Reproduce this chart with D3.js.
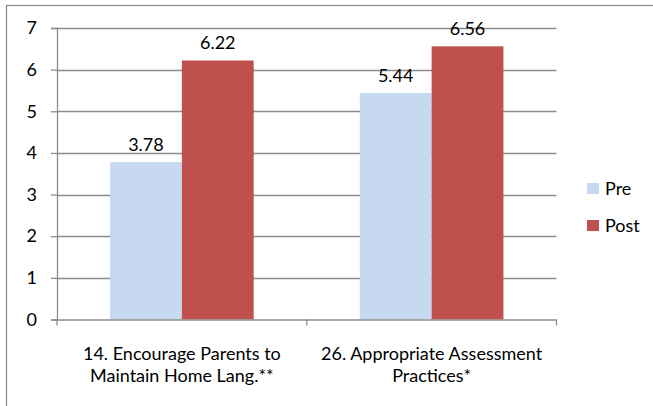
<!DOCTYPE html>
<html>
<head>
<meta charset="utf-8">
<script src="https://cdn.jsdelivr.net/npm/d3@7"></script>
<style>
  body { margin: 0; background: #fff; }
  text { font-family: Lato, "Open Sans", sans-serif; fill: #000; }
</style>
</head>
<body>
<div id="chart"></div>
<script>
// data
var categories = ["14. Encourage Parents to|Maintain Home Lang.**", "26. Appropriate Assessment|Practices*"];
var seriesNames = ["Pre", "Post"];
var preValues = [3.78, 5.44];
var postValues = [6.22, 6.56];
var yTicks = [0, 1, 2, 3, 4, 5, 6, 7];
var colors = { Pre: "#C6D9F1", Post: "#C0504D" };

var W = 653, H = 406;
var fs = "18px";
var margin = { left: 57, right: 96, top: 28, bottom: 86 };
var width = 556.5 - margin.left;
var height = 319.5 - margin.top;

var svg = d3.select("#chart").append("svg")
  .attr("width", W)
  .attr("height", H);

// outer chart border (only left and top are visible in the frame)
svg.append("rect")
  .attr("x", 6.5).attr("y", 5.5)
  .attr("width", W + 20).attr("height", H + 20)
  .attr("fill", "none").attr("stroke", "#888").attr("stroke-width", 1.2);

var g = svg.append("g")
  .attr("transform", "translate(" + margin.left + "," + margin.top + ")");

var y = d3.scaleLinear().domain([0, 7]).range([height, 0]);
var x0 = d3.scaleBand().domain(categories).range([0, width]).padding(0);
var gap = x0.bandwidth() * 0.2125;
var x1 = d3.scaleBand().domain(seriesNames).range([gap, x0.bandwidth() - gap]).padding(0);

// gridlines
g.append("g")
  .selectAll("line")
  .data(yTicks.filter(function (d) { return d > 0; }))
  .enter().append("line")
  .attr("x1", 0).attr("x2", width)
  .attr("y1", function (d) { return Math.round(y(d)) + 0.5; })
  .attr("y2", function (d) { return Math.round(y(d)) + 0.5; })
  .attr("stroke", "#8c8c8c").attr("stroke-width", 1.3);

// bars
var rows = categories.map(function (c, i) {
  return { cat: c, vals: [{ s: "Pre", v: preValues[i] }, { s: "Post", v: postValues[i] }] };
});

var groups = g.selectAll(".grp")
  .data(rows)
  .enter().append("g")
  .attr("class", "grp")
  .attr("transform", function (d) { return "translate(" + x0(d.cat) + ",0)"; });

groups.selectAll("rect")
  .data(function (d) { return d.vals; })
  .enter().append("rect")
  .attr("x", function (d) { return x1(d.s); })
  .attr("width", x1.bandwidth())
  .attr("y", function (d) { return y(d.v); })
  .attr("height", function (d) { return height - y(d.v); })
  .attr("fill", function (d) { return colors[d.s]; });

groups.selectAll(".lbl")
  .data(function (d) { return d.vals; })
  .enter().append("text")
  .attr("class", "lbl")
  .attr("x", function (d) { return x1(d.s) + x1.bandwidth() / 2; })
  .attr("y", function (d) { return y(d.v) - 11; })
  .attr("text-anchor", "middle")
  .attr("font-size", fs)
  .text(function (d) { return d.v.toFixed(2); });

// y axis
var yAxis = g.append("g")
  .call(d3.axisLeft(y).tickValues(yTicks).tickFormat(d3.format("d")).tickSize(6).tickPadding(14));
yAxis.select(".domain").attr("stroke", "#8c8c8c").attr("stroke-width", 1.3);
yAxis.selectAll(".tick line").attr("stroke", "#8c8c8c").attr("stroke-width", 1.3);
yAxis.selectAll(".tick text").attr("font-size", fs).attr("font-family", "Lato, sans-serif").attr("fill", "#000");

// x axis
var xAxis = g.append("g")
  .attr("transform", "translate(0," + height + ")")
  .call(d3.axisBottom(x0).tickValues([]).tickSizeOuter(0));
xAxis.select(".domain").attr("stroke", "#8c8c8c").attr("stroke-width", 1.3);

// category boundary ticks
var bounds = [0].concat(categories.map(function (c) { return x0(c) + x0.bandwidth(); }));
xAxis.selectAll(".bt")
  .data(bounds)
  .enter().append("line")
  .attr("class", "bt")
  .attr("x1", function (d) { return d; }).attr("x2", function (d) { return d; })
  .attr("y1", 0).attr("y2", 6)
  .attr("stroke", "#8c8c8c").attr("stroke-width", 1.3);

// category labels
categories.forEach(function (c) {
  var t = g.append("text")
    .attr("x", x0(c) + x0.bandwidth() / 2)
    .attr("y", height + 40)
    .attr("text-anchor", "middle")
    .attr("font-size", fs);
  c.split("|").forEach(function (line, i) {
    t.append("tspan")
      .attr("x", x0(c) + x0.bandwidth() / 2)
      .attr("dy", i === 0 ? 0 : 22.5)
      .text(line);
  });
});

// legend
var legend = svg.append("g").attr("transform", "translate(587,183)");
seriesNames.forEach(function (s, i) {
  var row = legend.append("g").attr("transform", "translate(0," + (i * 37) + ")");
  row.append("rect").attr("width", 12).attr("height", 11).attr("fill", colors[s]);
  row.append("text").attr("x", 18).attr("y", 12).attr("font-size", fs).text(s);
});
</script>
</body>
</html>
